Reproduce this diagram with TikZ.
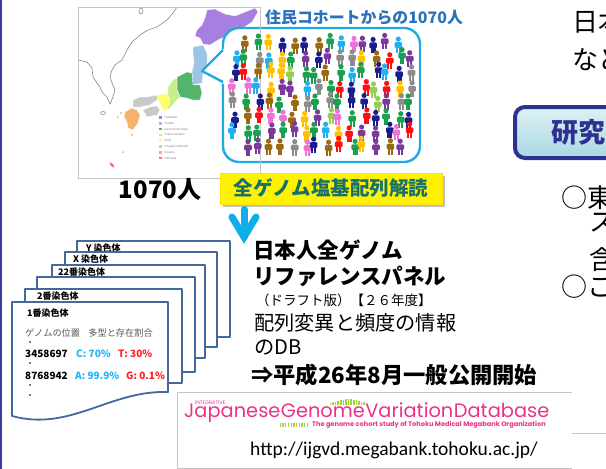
\documentclass[tikz,border=0pt]{standalone}
\usepackage{fontspec}
\setmainfont{Noto Sans CJK JP}
\newfontfamily\urlfont{Carlito}
\newfontfamily\logofont{Poppins}
\newfontfamily\tinyfont{Liberation Sans}

\definecolor{sideline}{HTML}{3B3BA5}
\definecolor{frameg}{HTML}{C4C4C4}
\definecolor{coastg}{HTML}{858585}
\definecolor{rHok}{HTML}{A77FE0}
\definecolor{rToh}{HTML}{9DC3E6}
\definecolor{rKan}{HTML}{55B46B}
\definecolor{rTok}{HTML}{C6EF8C}
\definecolor{rKin}{HTML}{FFFF6A}
\definecolor{rChu}{HTML}{C9C9C9}
\definecolor{rKyu}{HTML}{F6B26B}
\definecolor{rOki}{HTML}{FF6B6B}
\definecolor{calloutc}{HTML}{21A9E1}
\definecolor{titleblue}{HTML}{2A72BC}
\definecolor{tealtext}{HTML}{15706E}
\definecolor{arrowc}{HTML}{10AEE8}
\definecolor{pageblue}{HTML}{44699A}
\definecolor{valblue}{HTML}{1FB2F2}
\definecolor{valred}{HTML}{FF2020}
\definecolor{logopink}{HTML}{E9338B}
\definecolor{logogreen}{HTML}{A5CF3C}
\definecolor{boxnavy}{HTML}{2E3192}
\definecolor{boxtop}{HTML}{DDF1F5}
\definecolor{boxbot}{HTML}{A9D8E2}
% crowd colours
\definecolor{pNavy}{HTML}{1C1C8C}
\definecolor{pPurple}{HTML}{7A3A9A}
\definecolor{pGreen}{HTML}{1AA050}
\definecolor{pLime}{HTML}{92D050}
\definecolor{pPink}{HTML}{F070D8}
\definecolor{pRed}{HTML}{FF1010}
\definecolor{pBrown}{HTML}{9A6A10}
\definecolor{pGold}{HTML}{FFC000}
\definecolor{pGray}{HTML}{8C8C8C}
\definecolor{pSky}{HTML}{20B0F0}

\pgfmathdeclarerandomlist{pcolors}{{pNavy}{pPurple}{pGreen}{pLime}{pPink}{pRed}{pBrown}{pGold}{pGray}{pSky}{pNavy}{pPurple}}

\tikzset{
  txt/.style={inner sep=0pt, anchor=west},
  person/.pic={
    \fill (0,2.6) circle (2.6);
    \fill[rounded corners=1.2pt] (-3.8,5.6) rectangle (3.8,11.4);
    \fill (-2.4,11) rectangle (-0.35,16.5);
    \fill (0.35,11) rectangle (2.4,16.5);
  },
  region/.style={draw=white, line width=0.3pt},
  legendsq/.style={inner sep=0pt, minimum size=2.6pt},
  legendtx/.style={inner sep=0pt, anchor=west, text=gray, font=\tinyfont\fontsize{3}{3}\selectfont},
  sheet/.style={draw=pageblue, line width=1.8pt, fill=white, line join=round},
  sheetlabel/.style={txt, font=\bfseries\fontsize{9}{10}\selectfont},
  callout/.style={draw=calloutc, line width=2.4pt},
  valb/.style={txt, text=valblue, font=\bfseries\fontsize{10}{11}\selectfont},
  valr/.style={txt, text=valred, font=\bfseries\fontsize{10}{11}\selectfont},
  posn/.style={txt, font=\bfseries\fontsize{10}{11}\selectfont},
  dotmark/.style={txt, font=\fontsize{8}{8}\selectfont},
  big/.style={txt, font=\bfseries\fontsize{21.5}{24}\selectfont},
  mid/.style={txt, font=\fontsize{20.2}{22}\selectfont},
  side/.style={txt, font=\fontsize{26}{28}\selectfont},
}

\begin{document}
\begin{tikzpicture}[x=1pt,y=-1pt]
\useasboundingbox (0,0) rectangle (606,469);
\clip (0,0) rectangle (606,469);
\fill[white] (0,0) rectangle (606,469);

% left edge rule
\draw[sideline, line width=2pt] (1,0) -- (1,469);

% ---------- map of Japan ----------
% continental coastline
\draw[coastg, line width=0.6pt, line join=round]
  (78,60) -- (87,62) -- (92,68) -- (93,77) -- (97,83) -- (100,87) -- (102,92)
  -- (107,97) -- (110,104) -- (113,97) -- (115,90) -- (112,83) -- (110,77)
  -- (112,70) -- (115,65) -- (122,60) -- (127,50) -- (132,42) -- (140,35)
  -- (148,30) -- (157,27) -- (167,20) -- (173,13) -- (177,7);
\draw[coastg, line width=0.5pt] (141,11) ellipse (2 and 3);
\draw[coastg, line width=0.5pt] (103,113) ellipse (2.5 and 1.5);

% regions
\filldraw[region, fill=rHok] (207,10) -- (215,9) -- (225,14) -- (235,16) -- (245,12)
  -- (255,8) -- (258,12) -- (252,22) -- (240,30) -- (228,35) -- (218,40) -- (210,45)
  -- (203,44) -- (200,38) -- (195,36) -- (197,30) -- (202,25) -- (205,18) -- cycle;
\filldraw[region, fill=rToh] (193,47) -- (203,45) -- (207,53) -- (207,66) -- (203,72)
  -- (202,83) -- (193,85) -- (192,72) -- (194,63) -- (193,53) -- cycle;
\filldraw[region, fill=rKan] (177,77) -- (187,72) -- (192,73) -- (193,85) -- (200,85)
  -- (202,93) -- (200,100) -- (193,100) -- (187,98) -- (180,97) -- (177,90) -- cycle;
\filldraw[region, fill=rTok] (168,87) -- (173,80) -- (177,78) -- (177,90) -- (180,97)
  -- (175,102) -- (170,108) -- (167,110) -- (166,103) -- (165,97) -- (168,93) -- cycle;
\filldraw[region, fill=rKin] (157,95) -- (163,94) -- (168,95) -- (170,100) -- (168,107)
  -- (165,112) -- (162,108) -- (160,102) -- (157,100) -- cycle;
\filldraw[region, fill=rChu] (133,100) -- (140,97) -- (147,97) -- (157,95) -- (157,100)
  -- (150,105) -- (140,107) -- (133,107) -- cycle;
\filldraw[region, fill=rChu] (143,110) -- (150,107) -- (157,106) -- (160,110) -- (157,115)
  -- (147,117) -- cycle;
\filldraw[region, fill=rKyu] (125,112) -- (132,108) -- (137,110) -- (140,115) -- (138,123)
  -- (133,130) -- (128,128) -- (127,122) -- (124,117) -- cycle;
\fill[rKyu] (121,113) circle (1.2) (118,117) circle (1) (132,135) circle (1.2) (123,152) circle (1);
\fill[rOki, rotate around={-50:(112,165)}] (112,165) ellipse (3 and 1.3);

% legend
\foreach \col/\name [count=\k from 0] in {rHok/Hokkaido, rToh/Tohoku, rKan/Kanto-Koshinetsu,
    rTok/Tokai-Hokuriku, rKin/Kinki, rChu/Chugoku-Shikoku, rKyu/Kyushu, rOki/Okinawa}{
  \node[legendsq, fill=\col] (lg\k) at (160.5,{117.5+5.8*\k}) {};
  \node[legendtx] (lt\k) at (164.5,{117.5+5.8*\k}) {\name};
}

% ---------- cohort callout ----------
\filldraw[callout, fill=white, rounded corners=16pt] (223,28) rectangle (420,162);
\fill[white] (225.5,47) -- (202,71) -- (225.5,85) -- cycle;
\draw[callout, line join=round] (223,50) -- (202,71) -- (223,82);

% map frame
\draw[frameg, line width=0.6pt] (78,7) rectangle (260,178);

% crowd
\pgfmathsetseed{11}
\foreach \j in {0,...,7}{
  \foreach \i in {0,...,15}{
    \pgfmathsetmacro{\px}{234+11.8*\i+rand*3.2}
    \pgfmathsetmacro{\py}{35+14.8*\j+rand*3}
    \pgfmathrandomitem{\pcol}{pcolors}
    \pgfmathtruncatemacro{\skipit}{((\i==0)||(\i==15))&&((\j==0)||(\j==7)) ? 1 : 0}
    \ifnum\skipit=0
      \pic[color=\pcol] at (\px,\py) {person};
    \fi
  }
}

\node[txt, text=titleblue, font=\bfseries\fontsize{15.9}{17}\selectfont] (cohort) at (265,17) {住民コホートからの1070人};

% ---------- sequencing step ----------
\node[inner sep=0pt, font=\bfseries\fontsize{24}{26}\selectfont] (count) at (160,190) {1070人};

\fill[gray!70, opacity=0.7] (223,176) rectangle (445,207);
\node[draw=yellow!85!orange, line width=0.4pt, fill=yellow, minimum width=222pt, minimum height=31pt,
      inner sep=0pt, text=tealtext, font=\bfseries\fontsize{19.5}{21}\selectfont] (seq) at (331,188.5) {全ゲノム塩基配列解読};

\coordinate (arrtop) at (244,209.5);
\coordinate (arrtip) at (244,237);
\draw[arrowc, line width=7pt, line cap=round] (arrtop) -- (arrtip);
\draw[arrowc, line width=7pt, line cap=round, line join=miter, miter limit=10]
  (232,217) -- (arrtip) -- (256,217);

% ---------- chromosome sheets ----------
\draw[sheet] (77,241) rectangle (230,337);
\node[sheetlabel] (ly) at (86,248) {Y 染色体};
\draw[sheet] (65,252) rectangle (217,347);
\node[sheetlabel] (lx) at (73,259) {X 染色体};
\draw[sheet] (52,265) rectangle (205,358);
\node[sheetlabel] (l22) at (58,272.5) {22番染色体};
\draw[sheet] (37,277) rectangle (195,372);
\draw[sheet] (25,289) rectangle (182,383);
\node[sheetlabel] (l2) at (37,296) {2番染色体};
\draw[sheet] (12,302) -- (168,302) -- (168,392) .. controls (110,390) and (70,432) .. (12,416) -- cycle;
\node[sheetlabel] (l1) at (27,313) {1番染色体};

\node[txt, text=black!65, font=\fontsize{9.2}{10}\selectfont] (hdr) at (25,333) {ゲノムの位置\hspace{0.9em}多型と存在割合};
\node[dotmark] (d1) at (26,344) {・};
\node[posn] (p1) at (25,354) {3458697};
\node[valb] (v1a) at (76,354) {C: 70\%};
\node[valr] (v1b) at (118,354) {T: 30\%};
\node[dotmark] (d2) at (26,364.5) {・};
\node[posn] (p2) at (25,376) {8768942};
\node[valb] (v2a) at (75,376) {A: 99.9\%};
\node[valr] (v2b) at (126,376) {G: 0.1\%};
\node[dotmark] (d3) at (26,387) {・};
\node[dotmark] (d4) at (26,397) {・};

% ---------- reference panel text ----------
\node[big] (t1) at (253,250) {日本人全ゲノム};
\node[big] (t2) at (253,276.5) {リファレンスパネル};
\node[txt, font=\fontsize{13.5}{15}\selectfont] (t3) at (256,300) {（ドラフト版）【２６年度】};
\node[mid] (t4) at (254,323) {配列変異と頻度の情報};
\node[mid] (t5) at (254,347) {のDB};
\node[txt, font=\bfseries\fontsize{22.3}{24}\selectfont] (t6) at (251,375) {⇒平成26年8月一般公開開始};

% ---------- database logo ----------
\draw[frameg, line width=0.5pt] (572,392) -- (177,392) -- (177,469);
\draw[frameg, line width=0.5pt] (177,468) -- (572,468);
\draw[frameg, line width=0.5pt] (572,433) -- (606,433);

\node[txt, text=logopink, font=\logofont\fontsize{5}{5}\selectfont] (integ) at (195,403) {INTEGRATIVE};
\node[txt, text=logopink, font=\logofont\fontsize{19.4}{20}\selectfont] (logo) at (184,413)
  {Japanese\kern0.5pt Genome\kern0.5pt Variation\kern0.5pt Database};
\foreach \h [count=\k] in {2,3,3.5,4,5,5.5,6,6.5,6,5.5,5,4.5,3.5,3}{
  \fill[logogreen] ({327+2.6*\k},405) rectangle ++(1.5,-\h);
}
\foreach \h [count=\k] in {4,4,4,4,4,4,4,4,4,4,4}{
  \fill[logogreen] ({277+2.7*\k},423) rectangle ++(1.3,\h);
}
\node[txt, text=logopink, font=\logofont\bfseries\fontsize{6.6}{7}\selectfont] (tagline) at (312,425)
  {The genome cohort study of Tohoku Medical Megabank Organization};
\node[txt, font=\urlfont\fontsize{19.5}{20}\selectfont] (url) at (250,450) {http://ijgvd.megabank.tohoku.ac.jp/};

% ---------- neighbouring slide column ----------
\node[side] (r1) at (572,22) {日本};
\node[side] (r2) at (572,60) {など};
\shade[top color=boxtop, bottom color=boxbot, rounded corners=10pt] (515,107) rectangle (650,158);
\draw[boxnavy, line width=4pt, rounded corners=10pt] (515,107) rectangle (650,158);
\node[txt, text=boxnavy, font=\bfseries\fontsize{27}{29}\selectfont] (r3) at (551,132) {研究};
\node[side] (r4) at (561,198) {○東};
\node[side] (r5) at (589,223) {ス};
\node[side] (r6) at (589,260) {含};
\node[side] (r7) at (561,287) {○こ};
\end{tikzpicture}
\end{document}
